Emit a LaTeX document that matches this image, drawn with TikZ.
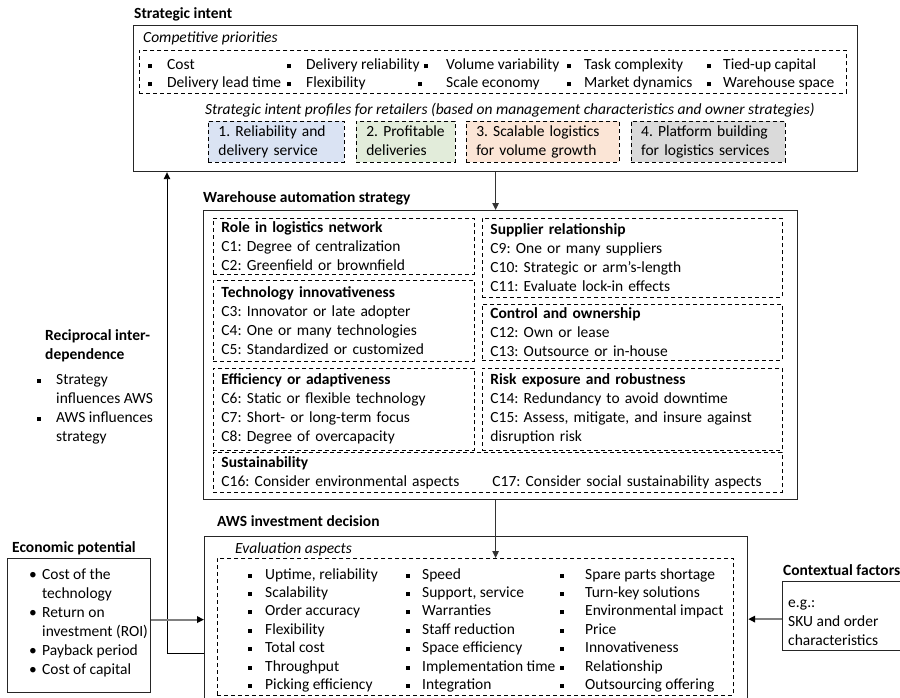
\documentclass[tikz,border=0pt]{standalone}
\usepackage{fontspec}
\setmainfont{Carlito}
\usepackage{tikz}
\usetikzlibrary{arrows.meta}
\usetikzlibrary{positioning}
\frenchspacing

\definecolor{profblue}{RGB}{218,227,243}
\definecolor{profgreen}{RGB}{226,236,218}
\definecolor{proforange}{RGB}{251,229,214}
\definecolor{profgrey}{RGB}{218,218,218}

\newcommand{\diagfont}{\fontsize{15.5}{19}\selectfont}
\newcommand{\sqbul}{\rule[1.5pt]{4pt}{4pt}}

\tikzset{
    panel/.style={
           rectangle,
           draw=black!85, line width=1.2pt,
           anchor=north west,
           inner sep=0pt,
           },
    group/.style={
           rectangle,
           draw=black, line width=0.9pt,
           dash pattern=on 4pt off 3pt,
           anchor=north west,
           inner xsep=8pt, inner ysep=0pt,
           align=left,
           font=\diagfont,
           },
    profile/.style={
           group,
           inner xsep=10pt,
           },
    txt/.style={anchor=base west, inner sep=0pt, font=\diagfont},
    headtxt/.style={txt, font=\diagfont\bfseries},
    ittxt/.style={txt, font=\diagfont\itshape},
    flow/.style={draw=black!80, line width=0.9pt, ->},
    sideflow/.style={draw=black!50, line width=2pt,
           -{Triangle[length=7pt,width=6.5pt,color=black]}},
}

\begin{document}
\begin{tikzpicture}[x=1pt,y=-1pt,>={Triangle[length=7pt,width=6.5pt]}]
 \useasboundingbox (0,0) rectangle (900,698);

 % Strategic intent (top panel)
 \node[headtxt] (intenttitle) at (134,19) {Strategic intent};
 \node[panel, minimum width=724pt, minimum height=146pt] (intent) at (133,25) {};
 \node[ittxt] (priotitle) at (143,43) {Competitive priorities};
 \node[group, minimum width=707pt, minimum height=43pt] (priobox) at (139,50) {};
 \foreach \bx/\tx/\ty/\prio [count=\i] in {148/167/70/Cost, 287/306/70/Delivery reliability,
   424/446/70/Volume variability, 567/584/70/Task complexity, 707/723/70/Tied-up capital,
   148/167/88/Delivery lead time, 287/306/88/Flexibility, 418/446/88/Scale economy,
   567/584/88/Market dynamics, 707/723/88/Warehouse space}{
   \node[txt] (priob\i) at (\bx,\ty) {\sqbul};
   \node[txt] (prio\i) at (\tx,\ty) {\prio};
 }

 % four profiles, placed one after another
 \node[ittxt] (proftitle) at (205,115) {Strategic intent profiles for retailers (based on management characteristics and owner strategies)};
 \node[profile, fill=profblue, minimum width=136pt, text width=116pt, minimum height=41pt] (prof1) at (208,121)
 {\begin{tabular}{@{}l@{}}1. Reliability and\\delivery service\end{tabular}};
 \node[profile, fill=profgreen, minimum width=99pt, text width=79pt, minimum height=41pt,
  right=11pt of prof1] (prof2)
 {\begin{tabular}{@{}l@{}}2. Profitable\\deliveries\end{tabular}};
 \node[profile, fill=proforange, minimum width=153pt, text width=133pt, minimum height=41pt,
  right=10pt of prof2] (prof3)
 {\begin{tabular}{@{}l@{}}3. Scalable logistics\\for volume growth\end{tabular}};
 \node[profile, fill=profgrey, minimum width=154pt, text width=134pt, minimum height=41pt,
  right=11pt of prof3] (prof4)
 {\begin{tabular}{@{}l@{}}4. Platform building\\for logistics services\end{tabular}};

 % Warehouse automation strategy (middle panel)
 \node[headtxt] (strattitle) at (203,203) {Warehouse automation strategy};
 \node[panel, minimum width=594pt, minimum height=289pt] (strategy) at (203,210) {};

 % left column of content groups
 \node[group, minimum width=261pt, text width=245pt, minimum height=56pt] (role) at (213,218)
 {\textbf{Role in logistics network}\\C1: Degree of centralization\\C2: Greenfield or brownfield};
 \node[group, minimum width=261pt, text width=245pt, minimum height=81pt, below=5pt of role] (tech)
 {\textbf{Technology innovativeness}\\C3: Innovator or late adopter\\C4: One or many technologies\\C5: Standardized or customized};
 \node[group, minimum width=261pt, text width=245pt, minimum height=82pt, below=6pt of tech] (effic)
 {\textbf{Efficiency or adaptiveness}\\C6: Static or flexible technology\\C7: Short- or long-term focus\\C8: Degree of overcapacity};

 % right column of content groups
 \node[group, minimum width=300pt, text width=284pt, minimum height=79pt] (supplier) at (482,218)
 {\textbf{Supplier relationship}\\C9: One or many suppliers\\C10: Strategic or arm’s-length\\C11: Evaluate lock-in effects};
 \node[group, minimum width=300pt, text width=284pt, minimum height=56pt, below=6pt of supplier] (control)
 {\textbf{Control and ownership}\\C12: Own or lease\\C13: Outsource or in-house};
 \node[group, minimum width=300pt, text width=284pt, minimum height=82pt, below=7pt of control] (risk)
 {\textbf{Risk exposure and robustness}\\C14: Redundancy to avoid downtime\\C15: Assess, mitigate, and insure against\\disruption risk};

 \node[group, minimum width=569pt, text width=553pt, minimum height=40pt] (sustain) at (213,452)
 {\textbf{Sustainability}\\\makebox[271pt][l]{C16: Consider environmental aspects}C17: Consider social sustainability aspects};

 % AWS investment decision (bottom panel)
 \node[headtxt] (dectitle) at (217,526) {AWS investment decision};
 \node[panel, minimum width=543pt, minimum height=180pt] (decision) at (204,536) {};
 \node[ittxt] (evaltitle) at (235,553) {Evaluation aspects};
 \node[group, minimum width=516pt, minimum height=137pt] (evalbox) at (217,558) {};
 \foreach \aspect [count=\r] in {{Uptime, reliability}, Scalability, Order accuracy, Flexibility,
   Total cost, Throughput, Picking efficiency}{
   \node[txt] (evaab\r) at (248,{579+18.4*(\r-1)}) {\sqbul};
   \node[txt] (evaa\r) at (265,{579+18.4*(\r-1)}) {\aspect};
 }
 \foreach \aspect [count=\r] in {Speed, {Support, service}, Warranties, Staff reduction,
   Space efficiency, Implementation time, Integration}{
   \node[txt] (evbb\r) at (406,{579+18.4*(\r-1)}) {\sqbul};
   \node[txt] (evb\r) at (422,{579+18.4*(\r-1)}) {\aspect};
 }
 \foreach \aspect [count=\r] in {Spare parts shortage, Turn-key solutions, Environmental impact,
   Price, Innovativeness, Relationship, Outsourcing offering}{
   \node[txt] (evcb\r) at (560,{579+18.4*(\r-1)}) {\sqbul};
   \node[txt] (evc\r) at (585,{579+18.4*(\r-1)}) {\aspect};
 }

 % Economic potential (left)
 \node[headtxt] (econtitle) at (12,552) {Economic potential};
 \node[panel, minimum width=143pt, minimum height=134pt] (econ) at (7,558) {};
 \foreach \mark/\line [count=\r] in {\textbullet/Cost of the, {}/technology, \textbullet/Return on,
   {}/investment (ROI), \textbullet/Payback period, \textbullet/Cost of capital}{
   \node[txt] (econb\r) at (29,{579+19*(\r-1)}) {\mark};
   \node[txt] (econ\r) at (42,{579+19*(\r-1)}) {\line};
 }

 % Reciprocal interdependence (left, no box)
 \node[headtxt] (reciptitle) at (45,340) {Reciprocal inter-};
 \node[headtxt] (reciptitleb) at (45,359) {dependence};
 \foreach \mark/\line [count=\r] in {\sqbul/Strategy, {}/influences AWS, \sqbul/AWS influences, {}/strategy}{
   \node[txt] (recipb\r) at (37,{384+19*(\r-1)}) {\mark};
   \node[txt] (recip\r) at (56,{384+19*(\r-1)}) {\line};
 }

 % Contextual factors (right)
 \node[headtxt] (ctxtitle) at (783,575) {Contextual factors};
 \node[panel, minimum width=150pt, minimum height=69pt] (context) at (782,581) {};
 \foreach \line [count=\r] in {e.g.:, SKU and order, characteristics}{
   \node[txt] (ctx\r) at (788,{607+19*(\r-1)}) {\line};
 }

 % connectors
 \coordinate (loopbend) at (167,653);
 \draw[flow] (intent.south) -- (intent.south |- strategy.north);
 \draw[flow] (intent.south |- strategy.south) -- (intent.south |- evalbox.north);
 \draw[flow, draw=black] (loopbend -| decision.west) -- (loopbend) -- (loopbend |- intent.south);
 \draw[sideflow] ([yshift=6pt]econ.east) -- ([yshift=6pt]econ.east -| decision.west);
 \draw[sideflow] ([yshift=-3pt]context.west) -- ([yshift=-3pt]context.west -| decision.east);

\end{tikzpicture}
\end{document}
